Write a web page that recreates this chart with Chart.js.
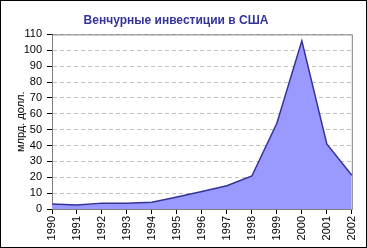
<!DOCTYPE html>
<html>
<head>
<meta charset="utf-8">
<script src="https://cdn.jsdelivr.net/npm/chart.js@4/dist/chart.umd.min.js"></script>
<style>
  html, body { margin: 0; padding: 0; background: #fff; }
  #wrap { position: relative; width: 367px; height: 248px; }
  #frame { position: absolute; left: 0; top: 0; width: 367px; height: 248px; box-sizing: border-box; border: 1px solid #000; pointer-events: none; }
  canvas { position: absolute; left: 0; top: 0; }
</style>
</head>
<body>
<div id="wrap">
  <canvas id="chart" width="367" height="248"></canvas>
  <div id="frame"></div>
</div>
<script>
const years = ['1990', '1991', '1992', '1993', '1994', '1995', '1996', '1997', '1998', '1999', '2000', '2001', '2002'];
const investments = [3.1, 2.5, 3.7, 3.7, 4.2, 7.5, 11, 14.7, 20.8, 54, 106, 41, 21.3];
const yMax = 110;
const yStep = 10;

// gray frame for plot area (top and right sides)
const plotFrame = {
    id: 'plotFrame',
    beforeDatasetsDraw(chart) {
        const a = chart.chartArea;
        const ctx = chart.ctx;
        ctx.save();
        ctx.strokeStyle = '#808080';
        ctx.lineWidth = 1;
        ctx.strokeRect(a.left + 0.5, a.top + 0.5, a.right - a.left, a.bottom - a.top);
        ctx.restore();
    }
};

Chart.defaults.font.family = 'Arial, "Liberation Sans", sans-serif';
Chart.defaults.color = '#000';

new Chart(document.getElementById('chart').getContext('2d'), {
    type: 'line',
    data: {
        labels: years,
        datasets: [{
            data: investments,
            borderColor: '#333399',
            backgroundColor: '#9999ff',
            borderWidth: 1.5,
            fill: 'origin',
            pointRadius: 0,
            tension: 0
        }]
    },
    options: {
        responsive: false,
        animation: false,
        layout: { padding: { left: 0, right: 15, top: 0, bottom: 0 } },
        plugins: {
            legend: { display: false },
            tooltip: { enabled: false },
            title: {
                display: true,
                text: 'Венчурные инвестиции в США',
                color: '#333399',
                font: { size: 12, weight: 'bold' },
                padding: { top: 13, bottom: 7 }
            }
        },
        scales: {
            x: {
                offset: false,
                grid: { drawOnChartArea: false, tickLength: 5, tickColor: '#000' },
                border: { color: '#000' },
                ticks: { font: { size: 11 }, minRotation: 90, maxRotation: 90, padding: 2, autoSkip: false },
                afterFit(scale) { scale.height = 39; }
            },
            y: {
                min: 0,
                max: yMax,
                grid: { color: '#c0c0c0', tickBorderDash: [], tickColor: '#000', tickLength: 5 },
                border: { color: '#000', dash: [4, 3] },
                ticks: { stepSize: yStep, autoSkip: false, font: { size: 11 }, padding: 5 },
                title: {
                    display: true,
                    text: 'млрд. долл.',
                    font: { size: 11 },
                    padding: { top: 14, bottom: 0 }
                },
                afterFit(scale) { scale.width = 52; }
            }
        }
    },
    plugins: [plotFrame]
});
</script>
</body>
</html>
